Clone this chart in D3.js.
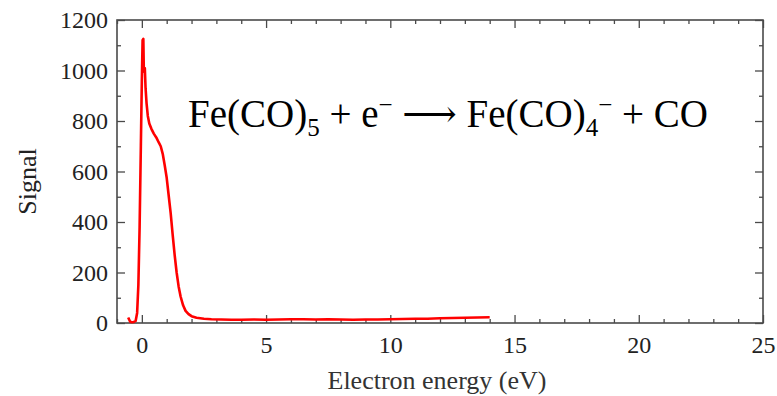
<!DOCTYPE html>
<html>
<head>
<meta charset="utf-8">
<script src="https://cdn.jsdelivr.net/npm/d3@7/dist/d3.min.js"></script>
<style>
  html, body { margin: 0; padding: 0; background: #fff; }
  svg { display: block; }
</style>
</head>
<body>
<svg id="chart" width="777" height="396"></svg>
<script>
// Electron attachment yield for Fe(CO)4- from Fe(CO)5
const energy = [-0.55, -0.47, -0.4, -0.32, -0.25, -0.19, -0.14, -0.09, -0.04, 0.0, 0.03, 0.06, 0.08, 0.1, 0.12, 0.15, 0.19, 0.24, 0.3, 0.38, 0.48, 0.58, 0.68, 0.76, 0.84, 0.92, 1.0, 1.08, 1.16, 1.24, 1.32, 1.4, 1.48, 1.56, 1.66, 1.76, 1.88, 2.0, 2.2, 2.5, 2.8, 3.2, 3.6, 4.0, 4.5, 5.0, 5.5, 6.0, 6.5, 7.0, 7.5, 8.0, 8.5, 9.0, 9.5, 10.0, 10.5, 11.0, 11.5, 12.0, 12.5, 13.0, 13.5, 14.0];
const signal = [22, 5, 3, 4, 8, 40, 150, 380, 700, 960, 1120, 1125, 1000, 995, 1010, 930, 870, 820, 790, 770, 750, 735, 715, 700, 670, 625, 575, 505, 435, 350, 270, 200, 145, 105, 70, 48, 35, 27, 21, 17, 15, 14, 13, 13, 14, 13, 14, 15, 15, 14, 15, 14, 13, 14, 14, 15, 16, 17, 17, 19, 20, 21, 22, 23];

const xMajor = [0, 5, 10, 15, 20, 25];
const yMajor = [0, 200, 400, 600, 800, 1000, 1200];

const SERIF = "'Liberation Serif', 'Times New Roman', serif";
const svg = d3.select("#chart");
const L = 117, R = 763, T = 20, B = 323;

const x = d3.scaleLinear().domain([-1, 25]).range([L, R]);
const y = d3.scaleLinear().domain([0, 1200]).range([B, T]);

const axisColor = "#4a4a4a";

// minor ticks (every 1 eV, every 100 counts), inward on all four sides
const xMinor = d3.range(-1, 26, 1).filter(v => v % 5 !== 0);
const yMinor = d3.range(100, 1200, 200);

function styleAxis(g) {
  g.select(".domain").remove();
  g.selectAll(".tick line").attr("stroke", axisColor).attr("stroke-width", 1.3);
  g.selectAll("text").style("font-family", SERIF).style("font-size", "24px").attr("fill", "#222");
}

// bottom
svg.append("g").attr("transform", `translate(0,${B})`)
  .call(d3.axisBottom(x).tickValues(xMajor).tickSize(-8).tickPadding(13).tickFormat(d3.format("d")))
  .call(styleAxis);
svg.append("g").attr("transform", `translate(0,${B})`)
  .call(d3.axisBottom(x).tickValues(xMinor).tickSize(-4).tickFormat(""))
  .call(styleAxis);
// top
svg.append("g").attr("transform", `translate(0,${T})`)
  .call(d3.axisTop(x).tickValues(xMajor).tickSize(-8).tickFormat(""))
  .call(styleAxis);
svg.append("g").attr("transform", `translate(0,${T})`)
  .call(d3.axisTop(x).tickValues(xMinor).tickSize(-4).tickFormat(""))
  .call(styleAxis);
// left
svg.append("g").attr("transform", `translate(${L},0)`)
  .call(d3.axisLeft(y).tickValues(yMajor).tickSize(-8).tickPadding(9).tickFormat(d3.format("d")))
  .call(styleAxis);
svg.append("g").attr("transform", `translate(${L},0)`)
  .call(d3.axisLeft(y).tickValues(yMinor).tickSize(-4).tickFormat(""))
  .call(styleAxis);
// right
svg.append("g").attr("transform", `translate(${R},0)`)
  .call(d3.axisRight(y).tickValues(yMajor).tickSize(-8).tickFormat(""))
  .call(styleAxis);
svg.append("g").attr("transform", `translate(${R},0)`)
  .call(d3.axisRight(y).tickValues(yMinor).tickSize(-4).tickFormat(""))
  .call(styleAxis);

// frame
svg.append("rect")
  .attr("x", L).attr("y", T).attr("width", R - L).attr("height", B - T)
  .attr("fill", "none").attr("stroke", axisColor).attr("stroke-width", 1.6);

// signal curve
const pts = energy.map((e, i) => [e, signal[i]]);
svg.append("path")
  .datum(pts)
  .attr("fill", "none")
  .attr("stroke", "#ff0000")
  .attr("stroke-width", 2.6)
  .attr("stroke-linejoin", "round")
  .attr("d", d3.line().x(d => x(d[0])).y(d => y(d[1])));

// axis titles
svg.append("text")
  .attr("x", 437).attr("y", 389)
  .attr("text-anchor", "middle")
  .style("font-family", SERIF).style("font-size", "26px").attr("fill", "#333")
  .text("Electron energy (eV)");

svg.append("text")
  .attr("transform", `translate(36,${(T + B) / 2 + 10}) rotate(-90)`)
  .attr("text-anchor", "middle")
  .style("font-family", SERIF).style("font-size", "26px").attr("fill", "#222")
  .text("Signal");

// reaction equation
const eq = svg.append("text")
  .attr("x", 188).attr("y", 127)
  .style("font-family", SERIF).style("font-size", "39px").attr("fill", "#000");
eq.append("tspan").text("Fe(CO)");
eq.append("tspan").style("font-size", "25px").attr("dy", 9).text("5");
eq.append("tspan").attr("dy", -9).text(" + e");
eq.append("tspan").style("font-size", "25px").attr("dy", -14).text("\u2212");
eq.append("tspan").attr("dy", 14).text(" ");
eq.append("tspan").style("font-family", "'DejaVu Serif', serif").style("font-size", "38px").text("\u27F6");
eq.append("tspan").text(" Fe(CO)");
eq.append("tspan").style("font-size", "25px").attr("dy", 9).text("4");
eq.append("tspan").style("font-size", "25px").attr("dy", -23).text("\u2212");
eq.append("tspan").attr("dy", 14).text(" + CO");
</script>
</body>
</html>
